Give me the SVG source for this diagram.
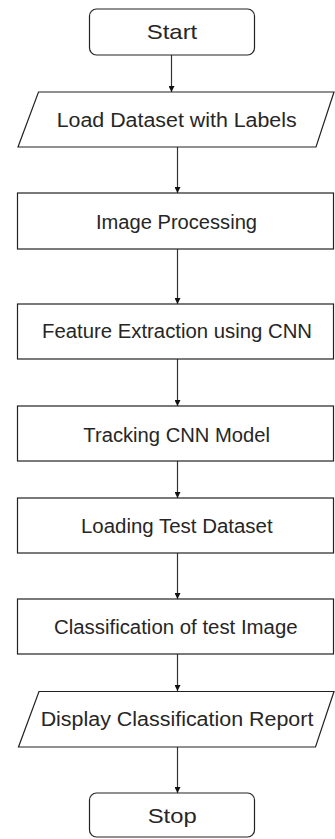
<svg xmlns="http://www.w3.org/2000/svg" width="335" height="839" viewBox="0 0 335 839">
<defs>
<style>
.shape{fill:#fff;stroke:#222;stroke-width:1.2}
.lbl{font-family:"Liberation Sans",Arial,sans-serif;font-size:20px;fill:#262626;text-anchor:middle}
.term{font-size:21px}
.conn{stroke:#333;stroke-width:1.2;fill:none;marker-end:url(#ah)}
</style>
<marker id="ah" viewBox="0 0 10 10" refX="10" refY="5" markerWidth="6" markerHeight="6" markerUnits="userSpaceOnUse" orient="auto">
<path d="M0,0 L10,5 L0,10 z" fill="#111"/>
</marker>
</defs>
<rect width="335" height="839" fill="#fff"/>
<g id="connectors">
<line class="conn" x1="171.5" y1="55" x2="171.5" y2="92"/>
<line class="conn" x1="177.5" y1="147" x2="177.5" y2="193"/>
<line class="conn" x1="177.5" y1="249" x2="177.5" y2="304"/>
<line class="conn" x1="177.5" y1="359" x2="177.5" y2="406"/>
<line class="conn" x1="177.5" y1="461" x2="177.5" y2="498"/>
<line class="conn" x1="177.5" y1="553" x2="177.5" y2="599"/>
<line class="conn" x1="177.5" y1="654" x2="177.5" y2="691"/>
<line class="conn" x1="177.5" y1="747" x2="177.5" y2="793"/>
</g>
<g id="start">
<rect class="shape" x="89.5" y="9" width="165" height="46" rx="7"/>
<text class="lbl term" x="172" y="39.3" textLength="50.6" lengthAdjust="spacingAndGlyphs">Start</text>
</g>
<g id="load-dataset">
<polygon class="shape" points="38.5,92 334,92 316,147 18,147"/>
<text class="lbl" x="176.7" y="126.7" textLength="240" lengthAdjust="spacingAndGlyphs">Load Dataset with Labels</text>
</g>
<g id="image-processing">
<rect class="shape" x="17.5" y="193" width="316" height="56"/>
<text class="lbl" x="176.5" y="228.8" textLength="161" lengthAdjust="spacingAndGlyphs">Image Processing</text>
</g>
<g id="feature-extraction">
<rect class="shape" x="17.5" y="304" width="316" height="55"/>
<text class="lbl" x="177" y="338.3" textLength="270" lengthAdjust="spacingAndGlyphs">Feature Extraction using CNN</text>
</g>
<g id="tracking-model">
<rect class="shape" x="17.5" y="406" width="316" height="55"/>
<text class="lbl" x="176.7" y="441.7" textLength="186.7" lengthAdjust="spacingAndGlyphs">Tracking CNN Model</text>
</g>
<g id="loading-test">
<rect class="shape" x="17.5" y="498" width="316" height="55"/>
<text class="lbl" x="176.8" y="533.3" textLength="191.7" lengthAdjust="spacingAndGlyphs">Loading Test Dataset</text>
</g>
<g id="classification">
<rect class="shape" x="17.5" y="599" width="316" height="55"/>
<text class="lbl" x="175.8" y="634" textLength="243.7" lengthAdjust="spacingAndGlyphs">Classification of test Image</text>
</g>
<g id="display-report">
<polygon class="shape" points="39,691.5 334,691.5 315.5,747 18.5,747"/>
<text class="lbl" x="177" y="726" textLength="272.7" lengthAdjust="spacingAndGlyphs">Display Classification Report</text>
</g>
<g id="stop">
<rect class="shape" x="89.5" y="793" width="165" height="44" rx="7"/>
<text class="lbl term" x="172.2" y="823" textLength="49" lengthAdjust="spacingAndGlyphs">Stop</text>
</g>
</svg>
